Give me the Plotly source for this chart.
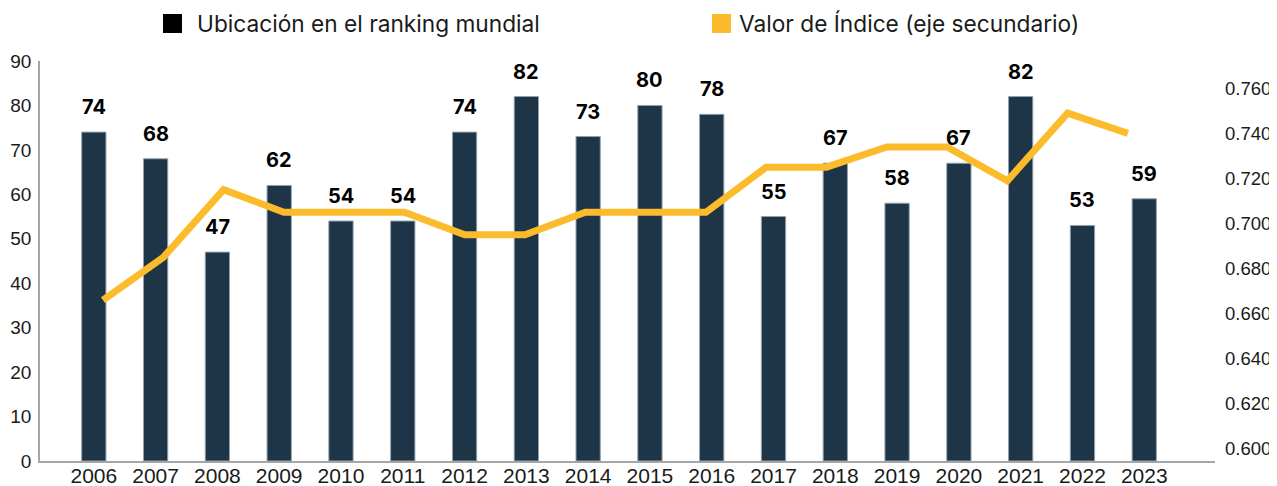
import plotly.graph_objects as go

years = ["2006", "2007", "2008", "2009", "2010", "2011", "2012", "2013", "2014",
         "2015", "2016", "2017", "2018", "2019", "2020", "2021", "2022", "2023"]
ranking = [74, 68, 47, 62, 54, 54, 74, 82, 73, 80, 78, 55, 67, 58, 67, 82, 53, 59]
index_value = [0.666, 0.685, 0.715, 0.705, 0.705, 0.705, 0.695, 0.695, 0.705,
               0.705, 0.705, 0.725, 0.725, 0.734, 0.734, 0.719, 0.749, 0.740]
left_ticks = [0, 10, 20, 30, 40, 50, 60, 70, 80, 90]
right_ticks = [0.600, 0.620, 0.640, 0.660, 0.680, 0.700, 0.720, 0.740, 0.760]
series_names = ["Ubicación en el ranking mundial", "Valor de Índice (eje secundario)"]

# page has an 8px body margin; size the figure so it fits the 1277x486 window
OFF = 8
W, H = 1277 - OFF, 486 - OFF
L, R, T, B = 32, 62, 53, 25
PW, PH = W - L - R, H - T - B

BAR_COLOR = "#1e3547"
LINE_COLOR = "#fbbb2b"
TXT = "#1a1a1a"


def px_x(px):
    """screen px -> paper fraction"""
    return (px - OFF - L) / PW


def px_y(py):
    return (H - B - (py - OFF)) / PH


fig = go.Figure()

fig.add_trace(go.Bar(
    x=years, y=ranking, name=series_names[0],
    marker=dict(color=BAR_COLOR, line=dict(color="#93a2ae", width=1)),
    width=0.393, showlegend=False, hoverinfo="x+y",
))

fig.add_trace(go.Scatter(
    x=years, y=index_value, name=series_names[1], mode="lines",
    line=dict(color=LINE_COLOR, width=7), xaxis="x2", yaxis="y2",
    showlegend=False,
))

# data labels above bars (category index positions on the x axis)
for i, v in enumerate(ranking):
    fig.add_annotation(
        x=i, y=v, xref="x", yref="y", text=str(v), showarrow=False,
        yanchor="middle", yshift=25,
        font=dict(family="Inter, Roboto, sans-serif", size=20, color="#000000", weight="bold"),
    )

# manual legend
legend_items = [(163, 195, "#000000", series_names[0]),
                (712, 737, LINE_COLOR, series_names[1])]
for sq_x, tx, col, name in legend_items:
    fig.add_shape(type="rect", xref="paper", yref="paper",
                  x0=px_x(sq_x), x1=px_x(sq_x + 19), y0=px_y(33), y1=px_y(14),
                  fillcolor=col, line=dict(width=0), layer="above")
    fig.add_annotation(xref="paper", yref="paper", x=px_x(tx), y=px_y(23),
                       xanchor="left", yanchor="middle", showarrow=False,
                       text=name,
                       font=dict(family="Inter, Lato, sans-serif", size=22.7, color=TXT))

fig.update_layout(
    width=W, height=H,
    margin=dict(l=L, r=R, t=T, b=B, pad=0, autoexpand=False),
    plot_bgcolor="white", paper_bgcolor="white",
    showlegend=False,
    xaxis=dict(
        type="category", range=[-0.871, 18.145], showgrid=False, automargin=False,
        showline=True, linecolor="#a6a6a6", linewidth=1.5, ticks="",
        tickfont=dict(family="Liberation Sans, Arial, sans-serif", size=21, color=TXT),
        ticklabelstandoff=-5,
    ),
    xaxis2=dict(
        type="category", overlaying="x", range=[-1.045, 18.444], visible=False,
        categoryorder="array", categoryarray=years, automargin=False,
    ),
    yaxis=dict(
        range=[0, 90], tickvals=left_ticks, showgrid=False, zeroline=False, automargin=False,
        showline=True, linecolor="#a6a6a6", linewidth=1.5, ticks="",
        tickfont=dict(family="Liberation Sans, Arial, sans-serif", size=19, color=TXT),
        ticklabelstandoff=3,
    ),
    yaxis2=dict(
        overlaying="y", side="right", range=[0.59468, 0.77210], automargin=False,
        tickvals=right_ticks, tickformat=".3f", showgrid=False, zeroline=False,
        showline=False, ticks="",
        tickfont=dict(family="Liberation Sans, Arial, sans-serif", size=18.5, color=TXT),
        ticklabelstandoff=9,
    ),
)

fig.write_html("out.html")
